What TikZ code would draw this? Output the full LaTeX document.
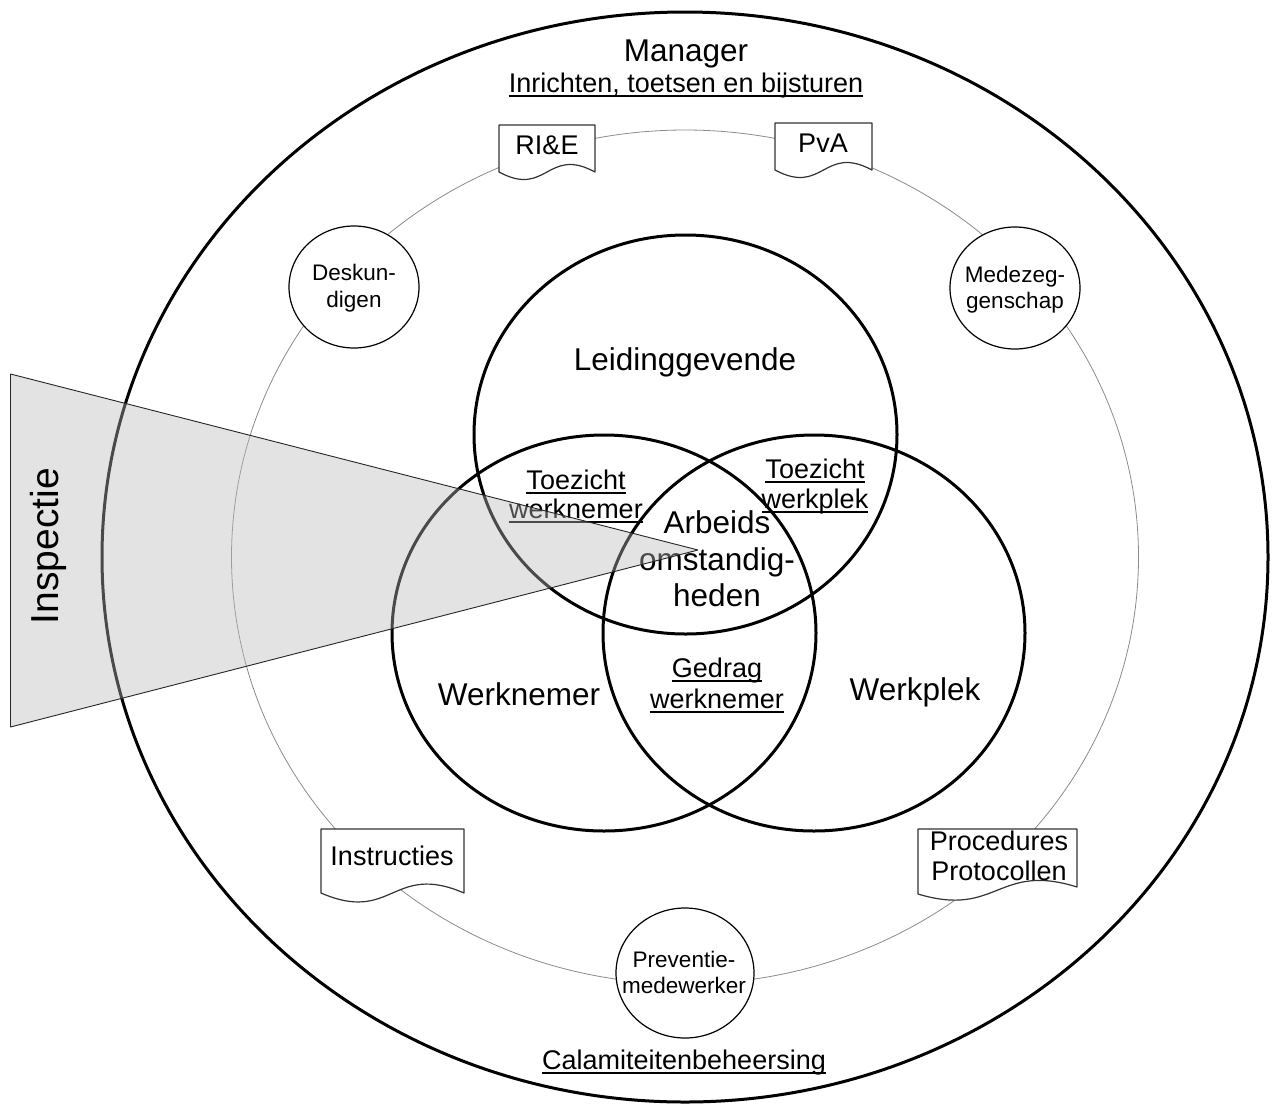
\documentclass[tikz,border=0pt]{standalone}
\usepackage{fontspec}
\setmainfont{Liberation Sans}
\usetikzlibrary{shapes.geometric}
\newsavebox\myulbox
\newcommand\myul[1]{\sbox\myulbox{#1}\rlap{\vrule width\wd\myulbox height -2.5pt depth 4.5pt}\usebox\myulbox}
\begin{document}
\begin{tikzpicture}[x=1pt,y=-1pt,
  ell/.style={ellipse, inner sep=0pt, outer sep=0pt},
  outerring/.style={ell, draw=black, line width=3pt},
  grayring/.style={ell, draw=black!45, line width=0.8pt},
  venn/.style={ell, draw=black, line width=3pt},
  smallc/.style={ell, draw=black, line width=1.2pt, fill=white},
  docbox/.style={draw=black!80, line width=1.2pt, fill=white, line join=round},
  lbl/.style={anchor=base, inner sep=0pt, font=\fontsize{27}{32}\selectfont},
  big/.style={anchor=base, inner sep=0pt, font=\fontsize{31.5}{37}\selectfont},
  sml/.style={anchor=base, inner sep=0pt, font=\fontsize{22.5}{27}\selectfont},
  insp/.style={anchor=base, rotate=90, inner sep=0pt, font=\fontsize{39}{44}\selectfont},
  trifill/.style={fill=black!27, fill opacity=0.4},
  triedge/.style={draw=black!85, line width=0.9pt, line join=bevel}
]
\useasboundingbox (0,0) rectangle (1272,1104);
\fill[white] (0,0) rectangle (1272,1104);

% rings
\node[grayring, minimum width=907pt, minimum height=854pt] (ring) at (685,557) {};
\node[outerring, minimum width=1166pt, minimum height=1090pt] (outer) at (685,557) {};

% documents
\path[docbox] (499,172) -- (499,125) -- (595,125) -- (595,172)
  .. controls (547,146) and (547,198) .. (499,172) -- cycle;
\path[docbox] (775,170) -- (775,123) -- (872,123) -- (872,170)
  .. controls (823.5,144) and (823.5,196) .. (775,170) -- cycle;
\path[docbox] (321,893) -- (321,829) -- (464,829) -- (464,893)
  .. controls (392.5,862) and (392.5,924) .. (321,893) -- cycle;
\path[docbox] (918,894) -- (918,829) -- (1077,829) -- (1077,887)
  .. controls (997.5,862) and (997.5,918) .. (918,894) -- cycle;

% small circles
\node[smallc, minimum width=130pt, minimum height=122pt] (desk) at (354,287) {};
\node[smallc, minimum width=130pt, minimum height=122pt] (mede) at (1015,288) {};
\node[smallc, minimum width=138pt, minimum height=130pt] (prev) at (685,973) {};

% venn
\node[venn, minimum width=423pt, minimum height=399pt] (lead) at (685.5,434.5) {};
\node[venn, minimum width=424pt, minimum height=396pt] (wn) at (604,633) {};
\node[venn, minimum width=422pt, minimum height=396pt] (wp) at (814,633) {};

% texts
\node[big] (mgr) at (686,61) {Manager};
\node[lbl] (inr) at (686,92) {\myul{Inrichten, toetsen en bijsturen}};
\node[lbl] (rie) at (547,154) {RI\&E};
\node[lbl] (pva) at (823,152) {PvA};
\node[sml] (desk1) at (354,280) {Deskun-};
\node[sml] (desk2) at (354,307) {digen};
\node[sml] (mede1) at (1015,282) {Medezeg-};
\node[sml] (mede2) at (1015,308) {genschap};
\node[big] (lgv) at (685,370) {Leidinggevende};
\node[lbl] (tzw1) at (576,489) {\myul{Toezicht}};
\node[lbl] (tzw2) at (576,518) {\myul{werknemer}};
\node[lbl] (tzp1) at (815,478) {\myul{Toezicht}};
\node[lbl] (tzp2) at (815,508) {\myul{werkplek}};
\node[big] (arb1) at (717,533) {Arbeids};
\node[big] (arb2) at (717,570) {omstandig-};
\node[big] (arb3) at (717,606) {heden};
\node[lbl] (gdr1) at (717,677) {\myul{Gedrag}};
\node[lbl] (gdr2) at (717,708) {\myul{werknemer}};
\node[big] (wnl) at (519,705) {Werknemer};
\node[big] (wpl) at (915,700) {Werkplek};
\node[lbl] (ins) at (392,865) {Instructies};
\node[lbl] (proc1) at (999,850) {Procedures};
\node[lbl] (proc2) at (999,880) {Protocollen};
\node[sml] (prev1) at (684,967) {Preventie-};
\node[sml] (prev2) at (684,993) {medewerker};
\node[lbl] (cal) at (684,1069) {\myul{Calamiteitenbeheersing}};

% inspection triangle
\coordinate (tA) at (10.5,374);
\coordinate (tB) at (10.5,727);
\coordinate (tC) at (698,550);
\path[trifill] (tA) -- (tC) -- (tB) -- cycle;
\path[triedge] (tA) -- (tC) -- (tB) -- cycle;
\node[insp] (inspt) at (58,546) {Inspectie};
\end{tikzpicture}
\end{document}
